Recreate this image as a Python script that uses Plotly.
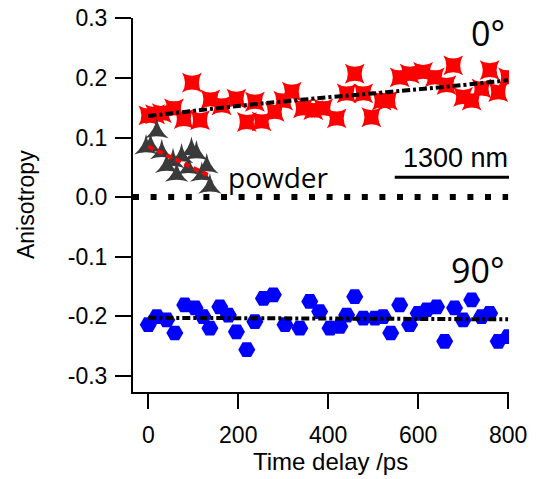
import plotly.graph_objects as go

# ---- data ----
t_par = [0, 15, 30, 57, 79, 97, 115, 138, 163, 196, 219, 237, 252, 281, 300, 319, 344, 367,
         389, 419, 441, 459, 478, 496, 519, 533, 559, 581, 611, 637, 663, 678, 700, 719,
         741, 759, 778, 800]
a_par = [0.137, 0.139, 0.141, 0.149, 0.131, 0.192, 0.129, 0.164, 0.154, 0.165, 0.126, 0.160,
         0.127, 0.143, 0.162, 0.177, 0.149, 0.146, 0.149, 0.132, 0.174, 0.207, 0.174, 0.134,
         0.162, 0.162, 0.201, 0.207, 0.210, 0.201, 0.188, 0.221, 0.168, 0.162, 0.182, 0.213,
         0.176, 0.201]

t_perp = [0, 19, 41, 59, 81, 104, 122, 137, 159, 178, 196, 219, 237, 256, 278, 304, 337, 359,
          381, 404, 426, 441, 459, 478, 504, 522, 539, 559, 581, 600, 619, 641, 659, 681, 700,
          719, 741, 759, 778, 800]
a_perp = [-0.214, -0.2005, -0.206, -0.228, -0.181, -0.186, -0.2005, -0.220, -0.184, -0.198,
          -0.226, -0.256, -0.209, -0.170, -0.164, -0.214, -0.220, -0.175, -0.192, -0.220,
          -0.217, -0.198, -0.167, -0.203, -0.203, -0.2005, -0.228, -0.181, -0.214, -0.195,
          -0.189, -0.184, -0.242, -0.186, -0.206, -0.1725, -0.2005, -0.195, -0.242, -0.234]

t_powder = [-5, 5, 19, 30, 41, 55, 63, 74, 89, 96, 107, 119, 130, 137]
a_powder = [0.083, 0.085, 0.110, 0.075, 0.052, 0.060, 0.037, 0.068, 0.048, 0.079, 0.073,
            0.037, 0.051, 0.017]

t_fit_par = [0, 252, 530, 659, 800]
a_fit_par = [0.136, 0.157, 0.176, 0.185, 0.196]
t_fit_perp = [0, 800]
a_fit_perp = [-0.2025, -0.205]
t_fit_powder = [0, 133]
a_fit_powder = [0.085, 0.037]
t_zero = [-34, 800]
a_zero = [0.0, 0.0]
t_scalebar = [548, 808]
a_scalebar = [0.0335, 0.0335]

ytick_vals = [0.3, 0.2, 0.1, 0.0, -0.1, -0.2, -0.3]
ytick_text = ["0.3", "0.2", "0.1", "0.0", "-0.1", "-0.2", "-0.3"]
xtick_vals = [0, 200, 400, 600, 800]

X_RANGE = [-34, 802]
Y_RANGE = [-0.327, 0.3005]

fig = go.Figure()

fig.add_trace(go.Scatter(x=t_zero, y=a_zero, mode="lines",
                         line=dict(color="black", width=6, dash="6px,11.6px"),
                         hoverinfo="skip"))
fig.add_trace(go.Scatter(x=t_par, y=a_par, mode="markers",
                         marker=dict(symbol="star-square", size=18, color="#FF0000",
                                     line=dict(width=0))))
fig.add_trace(go.Scatter(x=t_perp, y=a_perp, mode="markers",
                         marker=dict(symbol="hexagon2", size=17, color="#0000FF",
                                     line=dict(width=0))))
fig.add_trace(go.Scatter(x=t_powder, y=a_powder, mode="markers",
                         marker=dict(symbol="star-triangle-up", size=17, color="#3a3a3a",
                                     line=dict(width=0))))
fig.add_trace(go.Scatter(x=t_fit_par, y=a_fit_par, mode="lines", line_shape="spline",
                         line=dict(color="black", width=4, dash="8px,3px,3px,3px")))
fig.add_trace(go.Scatter(x=t_fit_perp, y=a_fit_perp, mode="lines",
                         line=dict(color="black", width=4, dash="8px,3px,3px,3px")))
fig.add_trace(go.Scatter(x=t_fit_powder, y=a_fit_powder, mode="lines",
                         line=dict(color="#FF0000", width=4, dash="6px,4px")))
fig.add_trace(go.Scatter(x=t_scalebar, y=a_scalebar, mode="lines",
                         line=dict(color="black", width=3)))

font_axis = "Liberation Sans, Arial, sans-serif"
font_lbl = "Open Sans, sans-serif"

annotations = [
    dict(x=755, y=0.276, text="0°", font=dict(family=font_lbl, size=34, color="black")),
    dict(x=731, y=-0.122, text="90°", font=dict(family=font_lbl, size=34, color="black")),
    dict(x=289, y=0.034, text="powder", font=dict(family=font_lbl, size=28, color="black")),
    dict(x=684, y=0.066, text="1300 nm", font=dict(family=font_axis, size=27, color="black")),
    # axis titles: anchored at in-range data values, shifted in pixels
    dict(x=0.5, xref="paper", y=Y_RANGE[0] + 0.0005, yref="y", xshift=9, yshift=-70,
         yanchor="middle", text="Time delay /ps",
         font=dict(family=font_axis, size=24, color="black")),
    dict(x=X_RANGE[0] + 0.1, xref="x", y=0.5, yref="paper", xshift=-107, textangle=-90,
         xanchor="center", text="Anisotropy",
         font=dict(family=font_axis, size=23, color="black")),
]
for a in annotations:
    a.setdefault("xref", "x")
    a.setdefault("yref", "y")
    a["showarrow"] = False

# the page body adds an 8px offset, so the figure is 8px smaller than the window
fig.update_layout(
    width=529, height=471,
    margin=dict(l=125, r=28, t=10, b=87, autoexpand=False),
    paper_bgcolor="white", plot_bgcolor="white",
    showlegend=False,
    annotations=annotations,
    xaxis=dict(range=X_RANGE, tickvals=xtick_vals, showgrid=False, zeroline=False,
               showline=True, linecolor="black", linewidth=2, automargin=False,
               ticks="outside", ticklen=15, tickwidth=2, tickcolor="black",
               ticklabelstandoff=6, ticklabeloverflow="allow",
               tickfont=dict(family=font_axis, size=23, color="black")),
    yaxis=dict(range=Y_RANGE, tickvals=ytick_vals, ticktext=ytick_text,
               showgrid=False, zeroline=False, automargin=False,
               showline=True, linecolor="black", linewidth=2,
               ticks="outside", ticklen=16, tickwidth=2, tickcolor="black",
               ticklabelstandoff=3, ticklabeloverflow="allow",
               tickfont=dict(family=font_axis, size=23, color="black")),
)

fig.write_html("out.html")
